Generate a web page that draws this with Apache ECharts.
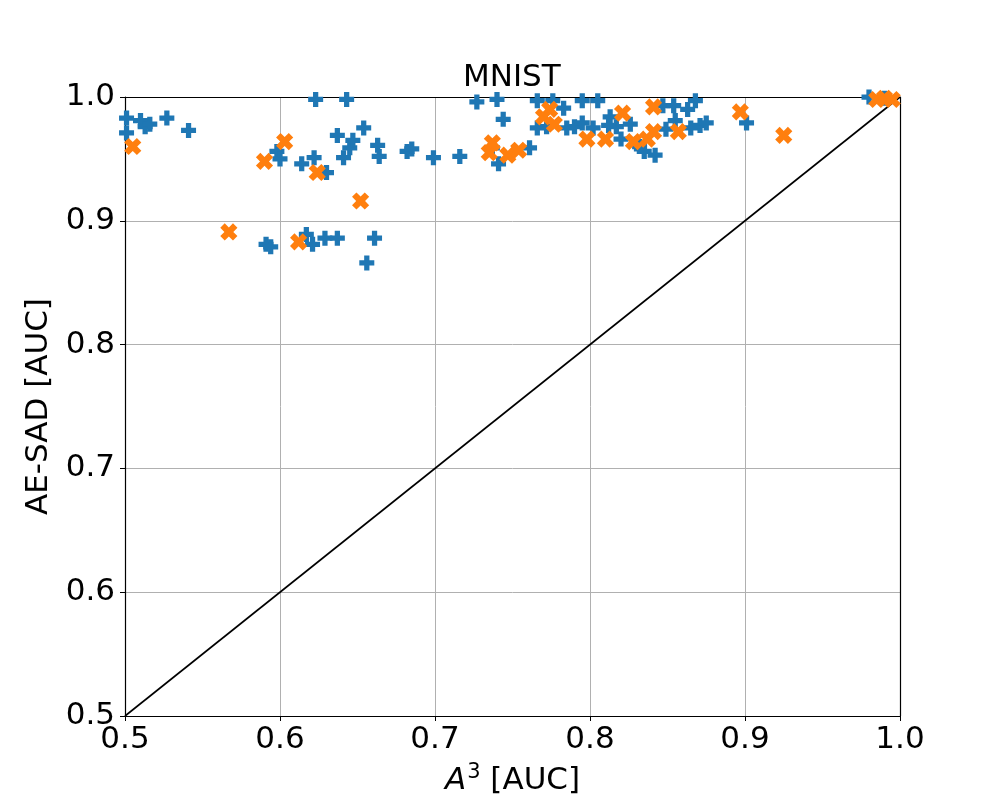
<!DOCTYPE html>
<html>
<head>
  <meta charset="utf-8">
  <title>MNIST - AE-SAD vs A3</title>
  <script src="https://cdn.jsdelivr.net/npm/echarts@6/dist/echarts.min.js"></script>
  <style>
    html, body { margin: 0; padding: 0; background: #fff; }
    #chart { width: 1000px; height: 805px; }
  </style>
</head>
<body>
<div id="chart"></div>
<script>
  // blue "+" points: A^3 AUC (x) vs AE-SAD AUC (y)
  const blueX = [0.501, 0.501, 0.510, 0.513, 0.516, 0.527, 0.541,
    0.598, 0.600, 0.614, 0.622, 0.623, 0.630, 0.637, 0.641, 0.643, 0.645, 0.647, 0.654, 0.663, 0.664,
    0.591, 0.594, 0.617, 0.621, 0.629, 0.637, 0.661, 0.656,
    0.682, 0.685, 0.699, 0.716, 0.727, 0.740, 0.744, 0.741, 0.737, 0.761, 0.766, 0.776, 0.766, 0.772,
    0.783, 0.785, 0.790, 0.795, 0.795, 0.805, 0.802, 0.813, 0.817, 0.820, 0.830, 0.832, 0.835, 0.842,
    0.847, 0.854, 0.863, 0.868, 0.855, 0.865, 0.871, 0.875, 0.849, 0.901, 0.980, 0.990, 0.812, 0.826];
  const blueY = [0.983, 0.971, 0.981, 0.976, 0.978, 0.983, 0.973,
    0.956, 0.950, 0.946, 0.951, 0.998, 0.939, 0.969, 0.951, 0.998, 0.959, 0.965, 0.975, 0.961, 0.952,
    0.881, 0.879, 0.889, 0.881, 0.886, 0.886, 0.886, 0.866,
    0.956, 0.958, 0.951, 0.952, 0.996, 0.998, 0.982, 0.946, 0.959, 0.959, 0.997, 0.997, 0.975, 0.976,
    0.991, 0.975, 0.976, 0.979, 0.997, 0.997, 0.975, 0.984, 0.976, 0.966, 0.962, 0.960, 0.956, 0.953,
    0.993, 0.993, 0.990, 0.997, 0.981, 0.975, 0.977, 0.979, 0.974, 0.979, 1.000, 0.999, 0.977, 0.978];

  // orange "x" points
  const orangeX = [0.505, 0.567, 0.590, 0.603, 0.612, 0.624, 0.652, 0.735, 0.737, 0.747, 0.754,
    0.770, 0.774, 0.777, 0.798, 0.810, 0.821, 0.828, 0.837, 0.841, 0.841, 0.857, 0.897, 0.925,
    0.985, 0.990, 0.995];
  const orangeY = [0.960, 0.891, 0.948, 0.964, 0.883, 0.939, 0.916, 0.955, 0.963, 0.953, 0.957,
    0.984, 0.990, 0.978, 0.966, 0.966, 0.987, 0.964, 0.966, 0.972, 0.992, 0.972, 0.988, 0.969,
    0.998, 0.999, 0.998];

  // y = x reference line
  const diagX = [0.5, 1.0];
  const diagY = [0.5, 1.0];

  const plusPath = 'path://M-0.7,-2H0.7V-0.7H2V0.7H0.7V2H-0.7V0.7H-2V-0.7H-0.7Z';
  const font = 'DejaVu Sans';
  const fs = 31;

  function zip(xs, ys) {
    return xs.map(function (x, i) { return [x, ys[i]]; });
  }
  function fmt(v) { return v.toFixed(1); }

  // plain frame axes for top and right spines
  const frameX = {
    type: 'value', min: 0.5, max: 1.0, position: 'top',
    axisLine: { show: true, lineStyle: { color: '#000', width: 1.2 } },
    axisTick: { show: false }, axisLabel: { show: false }, splitLine: { show: false }
  };
  const frameY = {
    type: 'value', min: 0.5, max: 1.0, position: 'right',
    axisLine: { show: true, lineStyle: { color: '#000', width: 1.2 } },
    axisTick: { show: false }, axisLabel: { show: false }, splitLine: { show: false }
  };

  const chart = echarts.init(document.getElementById('chart'));
  chart.setOption({
    animation: false,
    title: {
      text: 'MNIST',
      left: 458, top: 57,
      textStyle: { fontFamily: font, fontSize: fs, fontWeight: 'normal', color: '#000' }
    },
    grid: { left: 125, right: 100, top: 97, bottom: 89 },
    xAxis: [{
      type: 'value', min: 0.5, max: 1.0, interval: 0.1,
      name: '{i|A}{s|3} [AUC]', nameLocation: 'middle', nameGap: 46,
      nameTextStyle: {
        fontFamily: font, fontSize: fs, color: '#000',
        rich: {
          i: { fontFamily: font, fontSize: fs, fontStyle: 'italic', color: '#000' },
          s: { fontFamily: font, fontSize: 21, color: '#000', verticalAlign: 'top', padding: [0, 0, 16, 1] }
        }
      },
      axisLine: { lineStyle: { color: '#000', width: 1.2 } },
      axisTick: { show: true, inside: false, length: 5, lineStyle: { color: '#000' } },
      axisLabel: { fontFamily: font, fontSize: fs, color: '#000', margin: 8, formatter: fmt },
      splitLine: { show: true, lineStyle: { color: '#b0b0b0', width: 1 } }
    }, frameX],
    yAxis: [{
      type: 'value', min: 0.5, max: 1.0, interval: 0.1,
      name: 'AE-SAD [AUC]', nameLocation: 'middle', nameGap: 61,
      nameTextStyle: { fontFamily: font, fontSize: fs, color: '#000' },
      axisLine: { show: true, lineStyle: { color: '#000', width: 1.2 } },
      axisTick: { show: true, inside: false, length: 5, lineStyle: { color: '#000' } },
      axisLabel: { fontFamily: font, fontSize: fs, color: '#000', margin: 10, formatter: fmt },
      splitLine: { show: true, lineStyle: { color: '#b0b0b0', width: 1 } }
    }, frameY],
    series: [
      {
        type: 'line',
        data: zip(diagX, diagY),
        symbol: 'none',
        lineStyle: { color: '#000', width: 1.6 },
        z: 2
      },
      {
        type: 'scatter',
        data: zip(blueX, blueY),
        symbol: plusPath,
        symbolSize: 15,
        itemStyle: { color: '#1f77b4', opacity: 1 },
        z: 3
      },
      {
        type: 'scatter',
        data: zip(orangeX, orangeY),
        symbol: plusPath,
        symbolSize: 18,
        symbolRotate: 45,
        itemStyle: { color: '#ff7f0e', opacity: 1 },
        z: 4
      }
    ]
  });
</script>
</body>
</html>
